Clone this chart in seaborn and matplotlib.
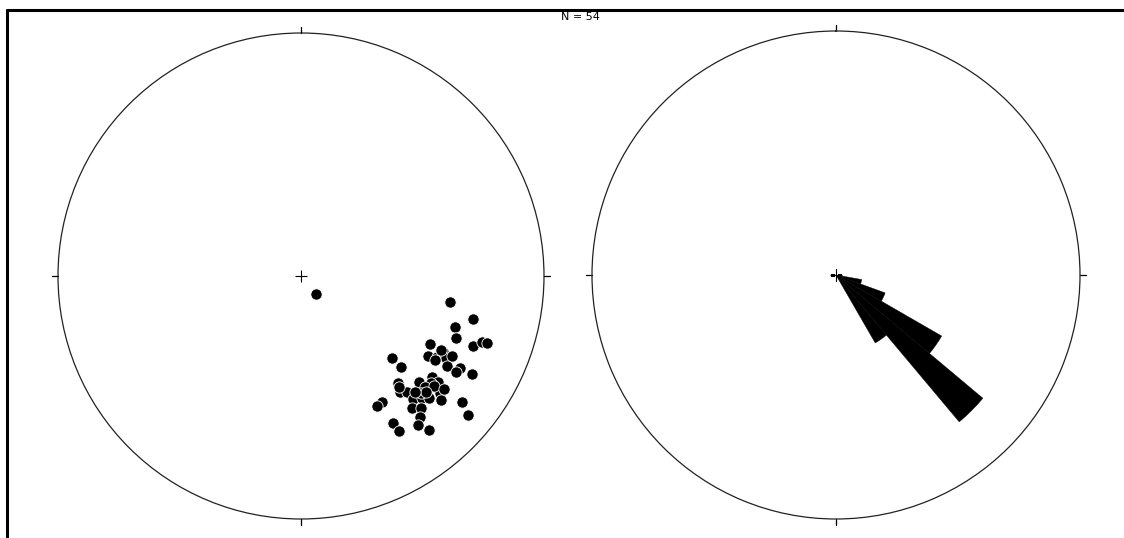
import numpy as np
import pandas as pd
import matplotlib
matplotlib.use("Agg")
import matplotlib.pyplot as plt
from matplotlib.lines import Line2D
from matplotlib.patches import Circle
import seaborn as sns

# ---- data: poles (equal-area net coordinates, unit circle; x = east, y = north)
pole_x = [0.613, 0.708, 0.634, 0.638, 0.531, 0.708, 0.745, 0.765, 0.523, 0.560,
          0.584, 0.597, 0.551, 0.601, 0.654, 0.638, 0.704, 0.539, 0.564, 0.535,
          0.374, 0.412, 0.399, 0.486, 0.510, 0.407, 0.436, 0.461, 0.498, 0.457,
          0.494, 0.490, 0.333, 0.313, 0.379, 0.403, 0.481, 0.527, 0.572, 0.527,
          0.576, 0.663, 0.687, 0.547, 0.494, 0.403, 0.062, 0.576, 0.621, 0.514,
          0.588, 0.469]
pole_y = [-0.107, -0.177, -0.210, -0.255, -0.280, -0.288, -0.272, -0.276, -0.329, -0.333,
          -0.313, -0.337, -0.346, -0.370, -0.379, -0.395, -0.403, -0.416, -0.436, -0.440,
          -0.337, -0.374, -0.440, -0.436, -0.457, -0.477, -0.477, -0.506, -0.502, -0.543,
          -0.543, -0.580, -0.519, -0.535, -0.605, -0.638, -0.613, -0.634, -0.481, -0.502,
          -0.510, -0.519, -0.572, -0.453, -0.481, -0.457, -0.074, -0.305, -0.329, -0.477,
          -0.465, -0.477]

# ---- data: rose diagram (azimuth bins, degrees, and counts)
rose_bin_start = [100, 110, 120, 130, 140]
rose_counts = [3, 6, 14, 22, 9]
rose_full_scale = 28  # count at the primitive circle

n_label = "N = 54"

# ---- figure
sns.set_style("white")
W, H = 1124, 538
fig = plt.figure(figsize=(W / 100, H / 100), dpi=100)
fig.patch.set_facecolor("white")

tick_len = 6 / 244.0

# left stereonet
cxL, cyL, RL = 301, 276, 243
axL = fig.add_axes([(cxL - RL) / W, (H - cyL - RL) / H, 2 * RL / W, 2 * RL / H])
axL.set_xlim(-1, 1)
axL.set_ylim(-1, 1)
axL.set_aspect("equal")
axL.axis("off")
axL.add_patch(Circle((0, 0), 1, fill=False, edgecolor="#222222", linewidth=0.9, clip_on=False))
for ang in [0, 90, 180, 270]:
    a = np.deg2rad(ang)
    axL.plot([np.sin(a), np.sin(a) * (1 + tick_len)], [np.cos(a), np.cos(a) * (1 + tick_len)],
             color="black", linewidth=0.9, clip_on=False)
axL.plot([0], [0], marker="+", markersize=9, markeredgewidth=0.8, color="black")
df = pd.DataFrame({"x": pole_x, "y": pole_y})
sns.scatterplot(data=df, x="x", y="y", ax=axL, s=66, color="black",
                edgecolor="white", linewidth=0.6, legend=False, clip_on=False)
axL.set_xlim(-1, 1)
axL.set_ylim(-1, 1)

# right rose diagram
cxR, cyR, RR = 836, 275, 244
axR = fig.add_axes([(cxR - RR) / W, (H - cyR - RR) / H, 2 * RR / W, 2 * RR / H],
                   projection="polar")
axR.set_theta_zero_location("N")
axR.set_theta_direction(-1)
theta = np.deg2rad(np.array(rose_bin_start) + 5)
radii = np.array(rose_counts) / rose_full_scale
axR.bar(theta, radii, width=np.deg2rad(10), bottom=0, color="black", edgecolor="black",
        linewidth=0.3)
axR.set_ylim(0, 1)
axR.grid(False)
axR.set_xticks([])
axR.set_yticks([])
axR.spines["polar"].set_linewidth(0.9)
axR.spines["polar"].set_color("#222222")
for ang in [0, 90, 180, 270]:
    a = np.deg2rad(ang)
    axR.plot([a, a], [1, 1 + tick_len], color="black", linewidth=0.9, clip_on=False)
axR.plot([0], [0], marker="+", markersize=9, markeredgewidth=0.8, color="black")

# title text
fig.text(580 / W, 1 - 17 / H, n_label, ha="center", va="center", fontsize=8, color="black")

# border (top and left visible)
fig.add_artist(Line2D([7 / W, 1.0], [1 - 10 / H, 1 - 10 / H], color="black", linewidth=2.2))
fig.add_artist(Line2D([7 / W, 7 / W], [0, 1 - 10 / H], color="black", linewidth=2.2))

fig.savefig("out.png", dpi=100, facecolor="white")
